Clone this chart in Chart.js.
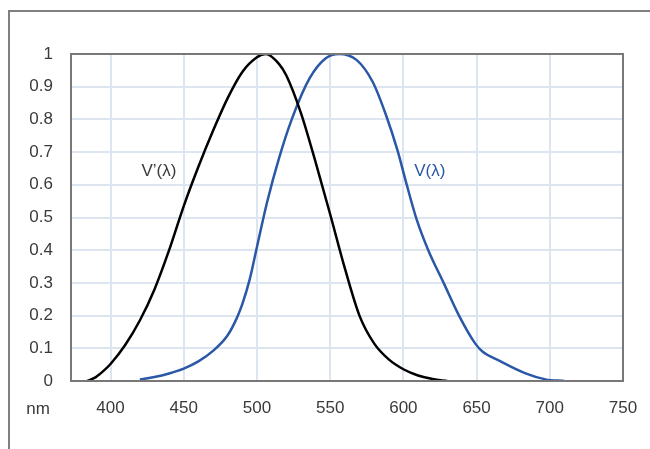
<!DOCTYPE html>
<html>
<head>
<meta charset="utf-8">
<script src="https://cdn.jsdelivr.net/npm/chart.js@4.4.1/dist/chart.umd.min.js"></script>
<style>
  body { margin: 0; background: #fff; }
  canvas { display: block; }
</style>
</head>
<body>
<canvas id="myChart" width="650" height="449"></canvas>
<script>
// scotopic curve V'(lambda)
const scotNm  = [384, 390, 395, 400, 410, 420, 430, 440, 450, 460, 470, 480, 490, 500, 506, 515, 520, 530, 540, 550, 560, 570, 580, 590, 600, 610, 620, 630]
const scotVal = [0, 0.012, 0.03, 0.052, 0.11, 0.185, 0.28, 0.40, 0.535, 0.655, 0.765, 0.865, 0.945, 0.99, 1.0, 0.97, 0.935, 0.82, 0.67, 0.51, 0.345, 0.2, 0.115, 0.066, 0.036, 0.017, 0.006, 0]

// photopic curve V(lambda)
const photNm  = [420, 430, 440, 450, 460, 470, 480, 486, 490, 495, 500, 507, 515, 524, 536, 547, 556, 568, 579, 588, 596, 602, 609, 617, 627.5, 638, 649, 654, 665, 683, 697, 710]
const photVal = [0.005, 0.012, 0.023, 0.038, 0.06, 0.092, 0.14, 0.19, 0.235, 0.31, 0.41, 0.548, 0.68, 0.803, 0.926, 0.987, 1.0, 0.982, 0.915, 0.815, 0.705, 0.605, 0.495, 0.40, 0.30, 0.20, 0.115, 0.09, 0.063, 0.024, 0.005, 0]

const xTicks = [400, 450, 500, 550, 600, 650, 700, 750]
const yTicks = [0, 0.1, 0.2, 0.3, 0.4, 0.5, 0.6, 0.7, 0.8, 0.9, 1]

const textCol = '#3a3a3a'
const blue = '#2a58a6'
const fontFam = '"Liberation Sans", Arial, sans-serif'

function pts(xs, ys){
    return xs.map((x, i) => ({x: x, y: ys[i]}))
}

// outer frame, plot border, curve labels and the "nm" unit
const extras = {
    id: 'extras',
    beforeDraw(chart){
        const c = chart.ctx
        c.save()
        c.strokeStyle = '#808080'
        c.lineWidth = 2
        c.beginPath()
        c.moveTo(650, 11)
        c.lineTo(9, 11)
        c.lineTo(9, 449)
        c.stroke()
        c.restore()
    },
    afterDraw(chart){
        const c = chart.ctx
        const a = chart.chartArea
        const xs = chart.scales.x, ys = chart.scales.y
        c.save()
        c.strokeStyle = '#787878'
        c.lineWidth = 2
        c.strokeRect(a.left, a.top, a.right - a.left, a.bottom - a.top)

        c.font = '17px ' + fontFam
        c.textBaseline = 'middle'
        c.textAlign = 'center'
        c.fillStyle = textCol
        c.fillText('V’(λ)', xs.getPixelForValue(433), ys.getPixelForValue(0.64))
        c.fillStyle = blue
        c.fillText('V(λ)', xs.getPixelForValue(618), ys.getPixelForValue(0.64))
        c.fillStyle = textCol
        c.fillText('nm', 38, 409)
        c.restore()
    }
}

new Chart(document.getElementById('myChart'), {
    type: 'scatter',
    data: {
        datasets: [{
            label: 'V’(λ)',
            data: pts(scotNm, scotVal),
            showLine: true,
            borderColor: '#000000',
            borderWidth: 2.5,
            pointRadius: 0,
            cubicInterpolationMode: 'monotone'
        }, {
            label: 'V(λ)',
            data: pts(photNm, photVal),
            showLine: true,
            borderColor: blue,
            borderWidth: 2.5,
            pointRadius: 0,
            cubicInterpolationMode: 'monotone'
        }]
    },
    options: {
        responsive: false,
        devicePixelRatio: 1,
        animation: false,
        layout: { padding: { left: 0, top: 54, right: 27, bottom: 18 } },
        plugins: { legend: { display: false }, tooltip: { enabled: false } },
        scales: {
            x: {
                type: 'linear',
                min: 373,
                max: 750,
                afterBuildTicks: s => { s.ticks = xTicks.map(v => ({value: v})) },
                afterFit: s => { s.height = 50; s.paddingLeft = 0; s.paddingRight = 0 },
                grid: { color: '#dde5f1', lineWidth: 2, drawTicks: false },
                border: { display: false },
                ticks: { color: textCol, font: { size: 17, family: fontFam }, padding: 17, maxRotation: 0 }
            },
            y: {
                min: 0,
                max: 1,
                afterBuildTicks: s => { s.ticks = yTicks.map(v => ({value: v})) },
                afterFit: s => { s.width = 71; s.paddingTop = 0; s.paddingBottom = 0 },
                grid: { color: '#dde5f1', lineWidth: 2, drawTicks: false },
                border: { display: false },
                ticks: {
                    color: textCol,
                    font: { size: 17, family: fontFam },
                    padding: 18,
                    callback: v => String(Math.round(v * 10) / 10)
                }
            }
        }
    },
    plugins: [extras]
})
</script>
</body>
</html>
